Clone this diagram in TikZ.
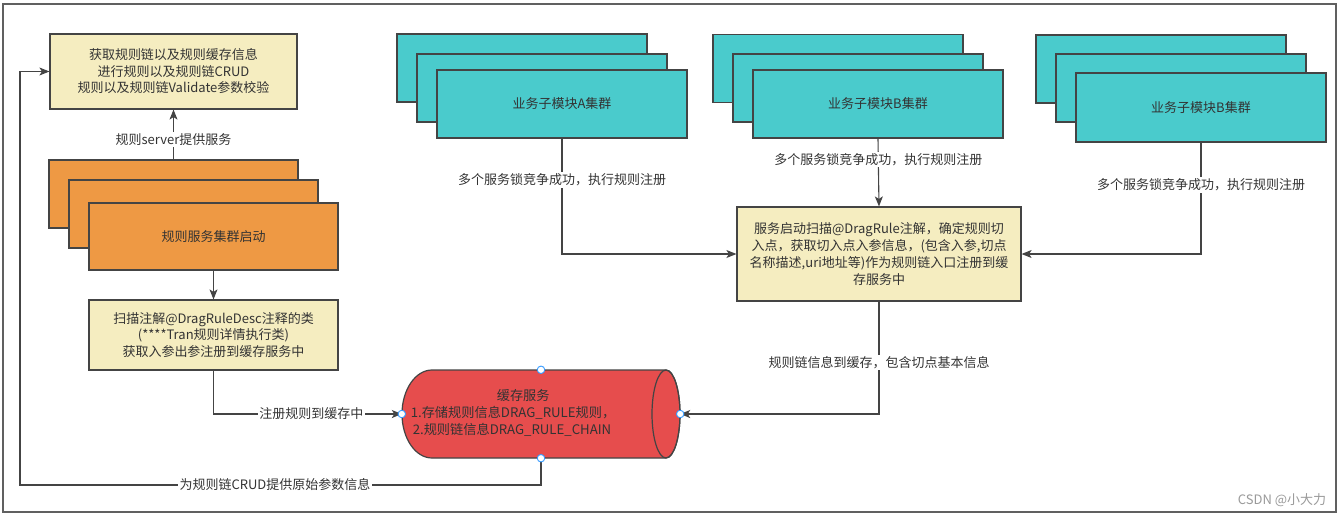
\documentclass[tikz,border=0pt]{standalone}
\usepackage{fontspec}
\setmainfont{Noto Sans CJK SC}
\usetikzlibrary{arrows.meta}
\definecolor{stk}{HTML}{444444}
\definecolor{txt}{HTML}{333333}
\definecolor{yel}{HTML}{F5EDC0}
\definecolor{org}{HTML}{EE9944}
\definecolor{teal}{HTML}{4ACBCC}
\definecolor{redc}{HTML}{E64D4D}
\definecolor{port}{HTML}{3399FF}
\definecolor{wm}{HTML}{9A9A9A}
\tikzset{
  box/.style={draw=stk, line width=1.2pt, inner sep=2pt, align=center, text=txt,
    font=\fontsize{13pt}{16.5pt}\selectfont},
  ybox/.style={box, fill=yel},
  obox/.style={box, fill=org, minimum width=249pt, minimum height=68pt},
  tbox/.style={box, fill=teal, minimum width=250pt, minimum height=68pt},
  conn/.style={draw=stk, line width=1.1pt, -{Stealth[length=10pt,width=8pt,inset=2.5pt]}},
  lbl/.style={fill=white, inner sep=1.5pt, text=txt, font=\fontsize{13pt}{15pt}\selectfont},
  portc/.style={circle, draw=port, fill=white, line width=0.9pt, minimum size=7.5pt, inner sep=0pt},
}
\begin{document}
\begin{tikzpicture}[x=1pt,y=-1pt]
\useasboundingbox (0,0) rectangle (1342,517);
\fill[white] (0,0) rectangle (1342,517);
\draw[draw=stk!85, line width=1.3pt] (3,4) rectangle (1336,512);

% left column
\node[ybox, minimum width=247pt, minimum height=75pt] (y1) at (173.5,71.5)
  {获取规则链以及规则缓存信息\\进行规则以及规则链CRUD\\规则以及规则链Validate参数校验};
\node[obox] (o1) at (173.5,194) {};
\node[obox] (o2) at (193.5,214) {};
\node[obox, minimum height=67pt] (o3) at (213.5,236.5) {规则服务集群启动};
\node[ybox, minimum width=249pt, minimum height=70pt] (scan) at (213.5,335)
  {扫描注解@DragRuleDesc注释的类\\(****Tran规则详情执行类)\\获取入参出参注册到缓存服务中};

% teal stacks
\node[tbox] (a1) at (522,68) {};
\node[tbox] (a2) at (542,88) {};
\node[tbox] (a3) at (562,104) {业务子模块A集群};
\node[tbox] (b1) at (838,68.5) {};
\node[tbox] (b2) at (858,88) {};
\node[tbox] (b3) at (878,104) {业务子模块B集群};
\node[tbox] (c1) at (1161,69) {};
\node[tbox] (c2) at (1181,88) {};
\node[tbox, minimum height=69pt] (c3) at (1201,107.5) {业务子模块B集群};

% main yellow box
\node[ybox, minimum width=284pt, minimum height=94pt, font=\fontsize{13pt}{17pt}\selectfont] (main) at (879,254)
  {服务启动扫描@DragRule注解，确定规则切\\入点，获取切入点入参信息，(包含入参,切点\\名称描述,uri地址等)作为规则链入口注册到缓\\存服务中};

% cache cylinder
\node[minimum width=278pt, minimum height=88pt, inner sep=0pt] (cache) at (541,414) {};
\draw[draw=stk, line width=1.2pt, fill=redc]
  (666,370) -- (432,370) arc[start angle=270, end angle=90, x radius=30, y radius=44]
  -- (666,458) arc[start angle=90, end angle=-90, x radius=14, y radius=44] -- cycle;
\draw[draw=stk, line width=1.2pt] (666,414) ellipse [x radius=14, y radius=44];
\node[text=txt, align=left, font=\fontsize{13.2pt}{17pt}\selectfont] (cachetxt) at (513,413)
  {\hspace*{86pt}缓存服务\\1.存储规则信息DRAG\_RULE规则，\\\hspace*{2pt}2.规则链信息DRAG\_RULE\_CHAIN};

% connectors
\draw[conn] (o1.north) -- node[lbl, pos=0.4] (l1) {规则server提供服务} (y1.south);
\draw[conn] (o3.south) -- (scan.north);
\draw[conn] (scan.south) |- node[lbl, pos=0.76] (l2) {注册规则到缓存中} (cache.west);
\coordinate (lb) at (20,485);
\draw[conn] (cache.south) |- (lb) |- (y1.west);
\node[lbl] (l3) at (275,485) {为规则链CRUD提供原始参数信息};
\draw[conn] (a3.south) |- node[lbl, pos=0.18] (l4) {多个服务锁竞争成功，执行规则注册} (main.west);
\draw[conn] (b3.south) -- node[lbl, pos=0.31] (l5) {多个服务锁竞争成功，执行规则注册} (main.north);
\draw[conn] (c3.south) |- node[lbl, pos=0.19] (l6) {多个服务锁竞争成功，执行规则注册} (main.east);
\draw[conn] (main.south) |- node[lbl, pos=0.27] (l7) {规则链信息到缓存，包含切点基本信息} (cache.east);

% ports
\node[portc] (pn) at (cache.north) {};
\node[portc] (ps) at (cache.south) {};
\node[portc] (pw) at (cache.west) {};
\node[portc] (pe) at (cache.east) {};

% watermark
\node[text=wm, font=\fontsize{13pt}{15pt}\selectfont] (wmark) at (1282,500) {CSDN @小大力};
\end{tikzpicture}
\end{document}
